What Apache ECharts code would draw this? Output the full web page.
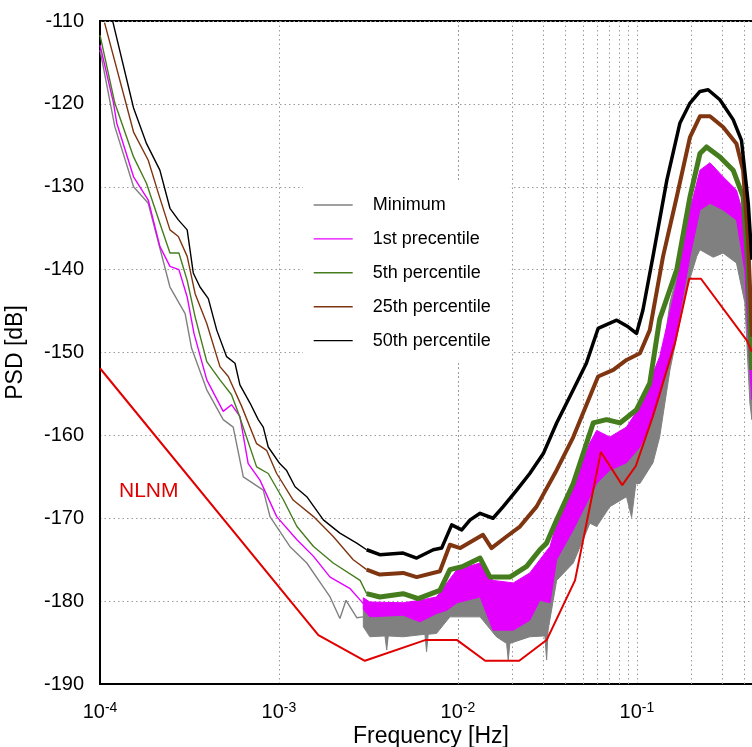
<!DOCTYPE html>
<html>
<head>
<meta charset="utf-8">
<script src="https://cdn.jsdelivr.net/npm/echarts@6/dist/echarts.min.js"></script>
<style>
html, body { margin: 0; padding: 0; background: #fff; }
#main { width: 752px; height: 747px; }
</style>
</head>
<body>
<div id="main"></div>
<script>
// legend entries (the "precentile" typo is in the original)
const legendNames = ['Minimum', '1st precentile', '5th percentile', '25th percentile', '50th percentile']

// x ticks: decades get a label, 2..9 get a dotted minor line
const decades = [1e-4, 1e-3, 1e-2, 1e-1]
const minorSteps = [2, 3, 4, 5, 6, 7, 8, 9]

// New Low Noise Model [Hz, dB]
const nlnm = [
    [1e-4, -151.9], [1.66e-3, -184.1], [3.02e-3, -187.2], [6.55e-3, -184.7], [9.9e-3, -184.7],
    [1.42e-2, -187.2], [2.2e-2, -187.2], [3.13e-2, -184.7], [4.51e-2, -177.5], [6.29e-2, -162.0],
    [8.28e-2, -166.0], [9.86e-2, -163.7], [0.1227, -157.7], [0.163, -148.9], [0.196, -141.1],
    [0.228, -141.1], [0.413, -148.6], [0.438, -149.9]
]

// 50th percentile
const p50Low = [
    [1.18e-4, -110.1], [1.54e-4, -120.5], [1.82e-4, -124.8], [2.16e-4, -128.0], [2.46e-4, -132.6],
    [2.74e-4, -134.0], [3.07e-4, -135.2], [3.32e-4, -140.4], [3.62e-4, -142.1], [4.03e-4, -143.5],
    [4.49e-4, -147.3], [5.10e-4, -150.5], [5.68e-4, -151.3], [6.05e-4, -153.9], [6.89e-4, -156.1],
    [7.66e-4, -158.1], [8.17e-4, -159.0], [8.71e-4, -161.4], [1.01e-3, -163.4], [1.10e-3, -164.2],
    [1.23e-3, -166.2], [1.43e-3, -167.4], [1.77e-3, -170.2], [2.19e-3, -171.8], [2.72e-3, -173.0],
    [3.09e-3, -173.8]
]
const p50High = [
    [3.09e-3, -173.8], [3.66e-3, -174.4], [4.94e-3, -174.2], [5.88e-3, -174.8], [7.28e-3, -173.8],
    [8.11e-3, -173.6], [9.23e-3, -170.8], [1.05e-2, -171.4], [1.17e-2, -170.2], [1.33e-2, -169.4],
    [1.57e-2, -170.0], [1.79e-2, -168.6], [2.13e-2, -166.6], [2.52e-2, -164.6], [3.00e-2, -162.2],
    [3.56e-2, -158.5], [4.41e-2, -154.5], [5.22e-2, -151.3], [6.07e-2, -147.1], [7.71e-2, -146.1],
    [8.93e-2, -146.9], [9.95e-2, -147.7], [0.108, -144.9], [0.123, -138.4], [0.147, -129.2],
    [0.174, -122.3], [0.198, -119.9], [0.225, -118.5], [0.250, -118.3], [0.291, -119.5],
    [0.345, -121.9], [0.384, -124.4], [0.419, -132.0], [0.439, -138.8]
]

// 25th percentile
const p25Low = [
    [1.06e-4, -110.2], [1.54e-4, -123.4], [1.86e-4, -126.8], [2.12e-4, -130.8], [2.46e-4, -135.2],
    [2.74e-4, -136.0], [3.07e-4, -138.4], [3.40e-4, -142.9], [3.95e-4, -146.5], [4.68e-4, -151.7],
    [5.21e-4, -152.9], [6.19e-4, -156.5], [7.50e-4, -161.0], [8.53e-4, -161.8], [9.71e-4, -164.6],
    [1.20e-3, -167.8], [1.56e-3, -169.8], [2.01e-3, -172.2], [2.60e-3, -175.0], [3.09e-3, -176.2]
]
const p25High = [
    [3.09e-3, -176.2], [3.66e-3, -176.8], [4.94e-3, -176.6], [5.88e-3, -177.1], [7.93e-3, -176.4],
    [9.02e-3, -173.2], [1.03e-2, -173.6], [1.38e-2, -172.0], [1.54e-2, -173.6], [1.87e-2, -172.2],
    [2.22e-2, -171.0], [2.75e-2, -168.6], [3.40e-2, -165.0], [3.56e-2, -164.2], [4.41e-2, -160.2],
    [5.46e-2, -155.3], [6.07e-2, -152.9], [7.38e-2, -152.1], [8.75e-2, -150.9], [0.104, -150.1],
    [0.118, -147.3], [0.140, -138.4], [0.167, -131.2], [0.198, -124.0], [0.225, -121.5],
    [0.256, -121.5], [0.303, -122.8], [0.360, -124.8], [0.392, -128.0], [0.419, -136.8],
    [0.439, -148.1]
]

// 5th percentile
const p5Low = [
    [1.00e-4, -111.7], [1.21e-4, -119.9], [1.54e-4, -126.4], [1.82e-4, -129.6], [2.16e-4, -134.4],
    [2.46e-4, -138.0], [2.76e-4, -138.0], [3.07e-4, -141.3], [3.40e-4, -145.7], [3.95e-4, -151.1],
    [4.68e-4, -153.3], [5.43e-4, -155.1], [5.93e-4, -157.3], [7.50e-4, -163.8], [8.71e-4, -164.6],
    [1.06e-3, -167.8], [1.26e-3, -171.0], [1.56e-3, -173.4], [2.01e-3, -175.4], [2.84e-3, -177.5],
    [3.09e-3, -179.1]
]
const p5High = [
    [3.09e-3, -179.1], [3.66e-3, -179.5], [4.94e-3, -179.1], [6.00e-3, -179.7], [7.93e-3, -178.7],
    [9.02e-3, -176.2], [1.07e-2, -175.8], [1.33e-2, -174.8], [1.51e-2, -177.1], [1.95e-2, -177.1],
    [2.42e-2, -175.8], [2.87e-2, -173.8], [3.13e-2, -173.0], [3.56e-2, -170.2], [4.41e-2, -165.8],
    [5.70e-2, -158.5], [6.76e-2, -158.1], [8.04e-2, -158.5], [9.95e-2, -156.9], [0.118, -153.7],
    [0.134, -146.0], [0.167, -140.0], [0.198, -131.2], [0.225, -126.0], [0.245, -125.2],
    [0.291, -126.4], [0.345, -128.0], [0.392, -131.2], [0.419, -140.0], [0.439, -152.1]
]

// 1st percentile: thin part, then noisy band [Hz, low dB, high dB]
const p1Low = [
    [1.00e-4, -112.9], [1.19e-4, -119.9], [1.24e-4, -122.3], [1.54e-4, -128.8], [1.86e-4, -131.6],
    [2.16e-4, -137.2], [2.46e-4, -139.6], [2.76e-4, -140.0], [3.07e-4, -143.3], [3.35e-4, -147.7],
    [3.95e-4, -153.3], [4.88e-4, -157.1], [5.43e-4, -156.3], [6.05e-4, -157.7], [6.73e-4, -163.4],
    [7.83e-4, -165.4], [9.71e-4, -169.8], [1.26e-3, -172.6], [1.56e-3, -174.6], [1.93e-3, -177.1],
    [2.50e-3, -178.5], [2.96e-3, -180.3]
]
const p1Band = [
    [2.96e-3, -181.0, -179.6], [3.22e-3, -181.9, -180.1], [4.94e-3, -181.7, -180.2], [6.13e-3, -182.5, -179.9],
    [7.59e-3, -181.5, -179.5], [8.68e-3, -181.1, -177.8], [9.87e-3, -180.2, -176.2], [1.33e-2, -179.5, -175.4],
    [1.57e-2, -183.5, -177.5], [2.04e-2, -183.5, -177.8], [2.52e-2, -182.3, -176.6], [2.87e-2, -179.9, -175.0],
    [3.27e-2, -180.2, -173.4], [3.56e-2, -175.0, -170.6], [4.41e-2, -171.4, -166.2], [5.46e-2, -167.4, -160.9],
    [5.96e-2, -165.8, -159.4], [7.06e-2, -164.2, -160.2], [8.75e-2, -163.3, -159.0], [0.104, -161.4, -156.5],
    [0.123, -157.8, -152.5], [0.134, -155.3, -150.5], [0.167, -147.3, -141.6], [0.198, -138.4, -132.8],
    [0.225, -132.8, -128.0], [0.256, -132.0, -127.1], [0.303, -132.8, -128.8], [0.360, -134.0, -130.4],
    [0.401, -140.1, -134.0], [0.428, -152.1, -144.0], [0.439, -155.7, -148.5]
]

// minimum: thin part, then noisy band with its downward spikes
const minLow = [
    [1.00e-4, -113.5], [1.21e-4, -122.75], [1.54e-4, -130.0], [1.86e-4, -132.0], [2.46e-4, -142.1],
    [2.99e-4, -145.3], [3.25e-4, -149.5], [3.95e-4, -154.5], [4.88e-4, -158.1], [5.55e-4, -159.0],
    [6.32e-4, -165.0], [8.17e-4, -166.6], [8.91e-4, -169.8], [1.15e-3, -173.4], [1.43e-3, -175.4],
    [1.77e-3, -178.3], [1.93e-3, -179.5], [2.19e-3, -182.1], [2.37e-3, -179.9], [2.72e-3, -182.0],
    [2.96e-3, -181.9]
]
const minBand = [
    [2.96e-3, -183.1, -180.6], [3.22e-3, -184.3, -181.3], [3.91e-3, -184.2, -181.3], [4.00e-3, -185.9, -181.3],
    [4.08e-3, -184.2, -181.4], [4.94e-3, -184.3, -181.4], [6.54e-3, -184.0, -181.2], [6.68e-3, -186.1, -181.2],
    [6.82e-3, -184.0, -181.2], [7.59e-3, -183.9, -181.1], [9.02e-3, -181.9, -178.3], [1.33e-2, -181.9, -176.6],
    [1.64e-2, -184.3, -178.7], [1.87e-2, -185.1, -179.5], [1.91e-2, -187.1, -179.5], [1.95e-2, -185.1, -179.5],
    [2.52e-2, -184.3, -178.3], [3.06e-2, -184.2, -177.5], [3.13e-2, -187.1, -177.2], [3.19e-2, -183.5, -176.9],
    [3.56e-2, -177.5, -173.0], [4.41e-2, -175.4, -167.4], [5.46e-2, -170.6, -162.6], [5.96e-2, -171.0, -160.9],
    [7.06e-2, -168.6, -163.3], [8.75e-2, -167.4, -161.4], [9.34e-2, -169.9, -161.0], [9.87e-2, -165.8, -160.0],
    [0.104, -165.8, -159.4], [0.123, -163.3, -155.4], [0.134, -160.2, -153.0], [0.153, -152.1, -144.0],
    [0.189, -142.5, -136.1], [0.216, -138.4, -131.6], [0.225, -137.6, -131.2], [0.267, -138.5, -130.4],
    [0.303, -138.0, -132.0], [0.360, -139.2, -133.7], [0.401, -144.0, -137.6], [0.428, -156.1, -148.1],
    [0.439, -158.1, -152.1]
]

const FONT = 'Liberation Sans, Arial, sans-serif'
const dotted = { color: '#9a9a9a', width: 1, type: [1.5, 3] }

let minorGrid = []
for (const d of decades) {
    for (const m of minorSteps) {
        minorGrid.push(+(d * m).toPrecision(3))
    }
}

// thin line
function thin(name, data, color, z) {
    return {
        name, type: 'line', data, z,
        symbol: 'none', silent: true,
        lineStyle: { color, width: 1.4 },
        itemStyle: { color }
    }
}
// noisy high-frequency part drawn as a thick line
function thick(name, data, color, width, z) {
    return {
        name, type: 'line', data, z,
        symbol: 'none', silent: true,
        lineStyle: { color, width, join: 'round' },
        itemStyle: { color }
    }
}
// noisy band: one polygon from the low edge forward and the high edge back
function band(id, data, color, z) {
    return {
        name: id, type: 'custom', data, z,
        silent: true, clip: true,
        encode: { x: 0, y: [1, 2] },
        renderItem: (params, api) => {
            if (params.dataIndex !== 0) return null
            const pts = []
            for (const d of data) pts.push(api.coord([d[0], d[1]]))
            for (let i = data.length - 1; i >= 0; i--) pts.push(api.coord([data[i][0], data[i][2]]))
            return {
                type: 'polygon',
                shape: { points: pts },
                style: { fill: color, stroke: color, lineWidth: 1, lineJoin: 'round' }
            }
        }
    }
}

const chart = echarts.init(document.getElementById('main'))

const option = {
    animation: false,
    backgroundColor: '#fff',
    textStyle: { fontFamily: FONT },
    grid: {
        left: 100, top: 21, right: -10, bottom: 63,
        outerBoundsMode: 'none',
        containLabel: false,
        show: true, borderColor: '#000', borderWidth: 2, backgroundColor: 'transparent'
    },
    legend: {
        data: legendNames,
        orient: 'vertical',
        left: 303, top: 183,
        padding: [13, 20, 13, 10],
        backgroundColor: '#fff',
        itemWidth: 39, itemHeight: 20, itemGap: 15.9,
        selectedMode: false,
        itemStyle: { opacity: 0 },
        lineStyle: { width: 1.4 },
        textStyle: { fontSize: 18, color: '#000', fontFamily: FONT, padding: [0, 0, 0, 15] }
    },
    xAxis: {
        type: 'log',
        min: 1e-4, max: 0.5,
        name: 'Frequency [Hz]',
        nameLocation: 'middle',
        nameGap: 41,
        nameMoveOverlap: false,
        nameTextStyle: { fontSize: 23, color: '#000', fontFamily: FONT },
        axisLine: { lineStyle: { color: '#000', width: 2 } },
        axisTick: { show: false },
        splitLine: { show: true, lineStyle: dotted },
        axisLabel: {
            margin: 17,
            showMaxLabel: false,
            formatter: v => {
                const lg = Math.log10(v)
                const e = Math.round(lg)
                if (Math.abs(lg - e) > 1e-6) return ''
                return '{b|10}{s|' + e + '}'
            },
            rich: {
                b: { fontSize: 20, color: '#000', fontFamily: FONT, lineHeight: 22 },
                s: { fontSize: 14, color: '#000', fontFamily: FONT, verticalAlign: 'top', lineHeight: 14 }
            }
        }
    },
    yAxis: {
        type: 'value',
        min: -190, max: -110, interval: 10,
        name: 'PSD [dB]',
        nameLocation: 'middle',
        nameGap: 73,
        nameMoveOverlap: false,
        nameRotate: 90,
        nameTextStyle: { fontSize: 23, color: '#000', fontFamily: FONT },
        axisLine: { show: true, lineStyle: { color: '#000', width: 2 } },
        axisTick: { show: false },
        splitLine: { show: true, lineStyle: dotted },
        axisLabel: { fontSize: 20, color: '#000', margin: 16, fontFamily: FONT }
    },
    graphic: [{
        type: 'text',
        left: 119, top: 481,
        style: { text: 'NLNM', fill: '#e00000', font: '21px ' + FONT }
    }],
    series: [
        thin(legendNames[0], minLow, '#808080', 2),
        band('min band', minBand, '#808080', 2),
        thin(legendNames[1], p1Low, '#e400ff', 3),
        band('p1 band', p1Band, '#e400ff', 3),
        thin(legendNames[2], p5Low, '#457c1e', 4),
        thick(legendNames[2], p5High, '#457c1e', 5, 4),
        thin(legendNames[3], p25Low, '#7f3510', 5),
        thick(legendNames[3], p25High, '#7f3510', 4, 5),
        thin(legendNames[4], p50Low, '#000000', 6),
        thick(legendNames[4], p50High, '#000000', 3.5, 6),
        {
            name: 'NLNM', type: 'line', data: nlnm, z: 7,
            symbol: 'none', silent: true,
            lineStyle: { color: '#e00000', width: 2 },
            markLine: {
                z: 1,
                silent: true,
                symbol: ['none', 'none'],
                label: { show: false },
                lineStyle: dotted,
                data: minorGrid.map(v => ({ xAxis: v }))
            }
        }
    ]
}

chart.setOption(option)
</script>
</body>
</html>
